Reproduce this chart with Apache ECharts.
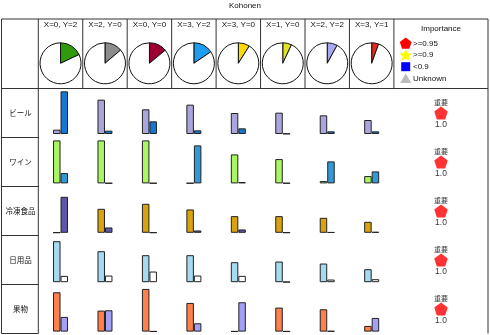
<!DOCTYPE html>
<html>
<head>
<meta charset="utf-8">
<script src="https://cdn.jsdelivr.net/npm/echarts@6/dist/echarts.min.js"></script>
<style>html,body{margin:0;padding:0;background:#fff}#c{width:490px;height:335px}</style>
</head>
<body>
<div id="c"></div>
<script>
// ---- data ----
const chartTitle = 'Kohonen';
const rowLabels = ['ビール', 'ワイン', '冷凍食品', '日用品', '果物'];
const clusterLabels = ['X=0, Y=2', 'X=2, Y=0', 'X=0, Y=0', 'X=3, Y=2', 'X=3, Y=0', 'X=1, Y=0', 'X=2, Y=2', 'X=3, Y=1'];
const clusterPct = [18, 13.8, 14, 15.5, 9, 7, 8, 5.5];
const barFirst = [
  [13, 103, 74, 88, 63, 64, 56, 42],
  [129, 129, 129, 1, 87, 73, 7, 22],
  [1, 72, 87, 70, 50, 50, 45, 33],
  [123, 93, 81, 81, 60, 62, 56, 39],
  [118, 63, 128, 86, 1, 72, 67, 17]
];
const barSecond = [
  [128, 10, 38, 11, 17, 1, 8, 8],
  [31, 1, 1, 114, 4, 1, 66, 36],
  [108, 16, 1, 7, 10, 1, 2, 3],
  [19, 20, 32, 20, 19, 1, 8, 9],
  [44, 64, 1, 25, 88, 1, 2, 41]
];
const importance = [1.0, 1.0, 1.0, 1.0, 1.0];
const importanceTag = '重要';
const legendTitle = 'Importance';
const legendItems = ['>=0.95', '>=0.9', '<0.9', 'Unknown'];

// ---- styles ----
const clusterColors = ['#2f9a0c', '#8c8c8c', '#9c0033', '#1e9cf2', '#ffd800', '#e2e226', '#a9a9f3', '#e82a1c'];
const colorsFirst = ['#aaa6dc', '#a9f562', '#d9a30f', '#a6daf0', '#ff7f4d'];
const colorsSecond = ['#1677d2', '#3399d6', '#5c57a8', '#ffffff', '#a3a0f5'];
const legendColors = ['#ff0000', '#ffff00', '#0000ff', '#bbbbbb'];
const FONT = '"Liberation Sans", Arial, sans-serif';
const JFONT = '"Noto Sans CJK JP", sans-serif';

const tableL = 1.5, tableR = 488, tableT = 19, headB = 88.5, rowH = 49, labelR = 38.3, colW = 44.45;
const nCols = clusterLabels.length, nRows = rowLabels.length;
const colCenter = c => labelR + colW * (c + 0.5);
const baseline = r => 134 + 49.4 * r;
const tableB = headB + rowH * nRows;

const chart = echarts.init(document.getElementById('c'), null, {renderer: 'canvas'});

const grid = [], xAxis = [], yAxis = [], series = [];
for (let r = 0; r < nRows; r++) {
  for (let c = 0; c < nCols; c++) {
    const gi = grid.length;
    grid.push({left: colCenter(c) - 7.5, width: 15, top: baseline(r) - 45, height: 45, containLabel: false});
    xAxis.push({type: 'category', gridIndex: gi, data: ['a', 'b'], show: false});
    yAxis.push({type: 'value', gridIndex: gi, min: 0, max: 135, show: false});
    series.push({
      type: 'bar', xAxisIndex: gi, yAxisIndex: gi, barCategoryGap: '0%', silent: true, animation: false,
      itemStyle: {borderColor: '#222', borderWidth: 1},
      data: [
        {value: barFirst[r][c], itemStyle: {color: colorsFirst[r]}},
        {value: barSecond[r][c], itemStyle: {color: colorsSecond[r]}}
      ]
    });
  }
}
// importance column
const impG = grid.length;
grid.push({left: 394, width: 94, top: headB, height: rowH * nRows});
xAxis.push({type: 'value', gridIndex: impG, min: 0, max: 1, show: false});
yAxis.push({type: 'category', gridIndex: impG, data: rowLabels, inverse: true, show: false});
const pentPath = 'path://M0,-10 L9.511,-3.09 L5.878,8.09 L-5.878,8.09 L-9.511,-3.09 Z';
series.push({
  type: 'scatter', xAxisIndex: impG, yAxisIndex: impG, symbol: pentPath, symbolSize: [13.5, 12.8],
  itemStyle: {color: '#ff0000'}, silent: true, animation: false,
  label: {show: true, position: 'top', distance: 1, formatter: importanceTag, fontSize: 7, fontFamily: JFONT, color: '#000'},
  data: importance.map((v, i) => [0.5, rowLabels[i], v])
});
series.push({
  type: 'scatter', xAxisIndex: impG, yAxisIndex: impG, symbol: 'rect', symbolSize: [13, 12.8],
  itemStyle: {color: 'rgba(0,0,0,0)'}, silent: true, animation: false,
  label: {show: true, position: 'bottom', distance: 0.5, formatter: p => p.value[2].toFixed(1), fontSize: 8.5, fontFamily: FONT, color: '#000'},
  data: importance.map((v, i) => [0.5, rowLabels[i], v])
});
// pies
for (let c = 0; c < nCols; c++) {
  series.push({
    type: 'pie', center: [colCenter(c), 63.3], radius: 20.5, startAngle: 90, clockwise: true,
    silent: true, animation: false, label: {show: false}, labelLine: {show: false},
    itemStyle: {borderColor: '#111', borderWidth: 1},
    data: [
      {value: clusterPct[c], itemStyle: {color: clusterColors[c]}},
      {value: 100 - clusterPct[c], itemStyle: {color: '#ffffff'}}
    ]
  });
}

// ---- table graphics ----
const g = [];
const line = (x1, y1, x2, y2) => g.push({type: 'line', shape: {x1, y1, x2, y2}, style: {stroke: '#333', lineWidth: 1}, silent: true});
line(tableL, tableT, tableR, tableT);
line(tableL, headB, tableR, headB);
line(tableL, tableT, tableL, tableB);
line(tableR, tableT, tableR, tableB);
line(labelR, tableT, labelR, tableB);
for (let c = 1; c <= nCols; c++) line(labelR + colW * c, tableT, labelR + colW * c, headB);
for (let r = 1; r <= nRows; r++) line(tableL, headB + rowH * r, labelR, headB + rowH * r);

const text = (x, y, t, size, font, align) => g.push({type: 'text', x, y, silent: true,
  style: {text: t, fontSize: size, fontFamily: font, fill: '#111', align: align || 'center', verticalAlign: 'middle'}});
text(245, 6, chartTitle, 8, FONT);
clusterLabels.forEach((t, c) => text(colCenter(c), 25, t, 8, FONT));
rowLabels.forEach((t, r) => text(20.5, headB + rowH * (r + 0.5), t, 7.5, JFONT));
text(441, 28.5, legendTitle, 8, FONT);

const lx = 405.7, ly = [43.3, 55, 66.7, 78.6];
function regPoly(cx, cy, R, n, rot) {
  const p = [];
  for (let i = 0; i < n; i++) { const a = rot + i * 2 * Math.PI / n; p.push([cx + R * Math.sin(a), cy - R * Math.cos(a)]); }
  return p;
}
function starPts(cx, cy, R, r) {
  const p = [];
  for (let i = 0; i < 10; i++) { const a = i * Math.PI / 5; const rr = i % 2 ? r : R; p.push([cx + rr * Math.sin(a), cy - rr * Math.cos(a)]); }
  return p;
}
g.push({type: 'polygon', shape: {points: regPoly(lx, ly[0] + 0.5, 6.2, 5, 0)}, style: {fill: legendColors[0]}, silent: true});
g.push({type: 'polygon', shape: {points: starPts(lx, ly[1] + 0.5, 6.5, 3.2)}, style: {fill: legendColors[1]}, silent: true});
g.push({type: 'rect', shape: {x: lx - 4.5, y: ly[2] - 4.5, width: 9, height: 9}, style: {fill: legendColors[2]}, silent: true});
g.push({type: 'polygon', shape: {points: [[lx, ly[3] - 5], [lx + 5.5, ly[3] + 4.5], [lx - 5.5, ly[3] + 4.5]]}, style: {fill: legendColors[3]}, silent: true});
legendItems.forEach((t, i) => text(413, ly[i], t, 8, FONT, 'left'));

chart.setOption({
  animation: false,
  backgroundColor: '#ffffff',
  grid, xAxis, yAxis, series,
  graphic: g
});
</script>
</body>
</html>
